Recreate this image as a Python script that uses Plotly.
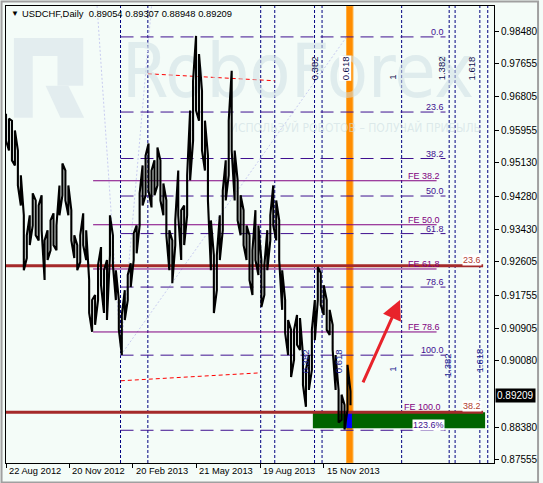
import plotly.graph_objects as go

# ---- data ----
title_text = "USDCHF,Daily  0.89054 0.89307 0.88948 0.89209"
last_close = 0.89209

# every 3rd daily bar (bar 0 = 22 Aug 2012): high / low
bar_step = 3
bar_high = [
    0.9638, 0.9625, 0.9620, 0.9595, 0.9544, 0.9481, 0.9379, 0.9328, 0.9379, 0.9435,
    0.9417, 0.9404, 0.9430, 0.9315, 0.9341, 0.9366, 0.9384, 0.9353, 0.9455, 0.9511,
    0.9493, 0.9455, 0.9392, 0.9328, 0.9303, 0.9328, 0.9384, 0.9341, 0.9214, 0.9163,
    0.9176, 0.9252, 0.9298, 0.9239, 0.9265, 0.9379, 0.9328, 0.9239, 0.9163, 0.9125,
    0.9188, 0.9227, 0.9257, 0.9333, 0.9353, 0.9435, 0.9506, 0.9531, 0.9562, 0.9493,
    0.9519, 0.9552, 0.9519, 0.9460, 0.9417, 0.9341, 0.9315, 0.9366, 0.9493, 0.9392,
    0.9404, 0.9481, 0.9646, 0.9722, 0.9836, 0.9790, 0.9696, 0.9620, 0.9531, 0.9366,
    0.9277, 0.9277, 0.9379, 0.9442, 0.9519, 0.9620, 0.9747, 0.9544, 0.9468, 0.9430,
    0.9392, 0.9353, 0.9328, 0.9290, 0.9392, 0.9353, 0.9265, 0.9252, 0.9341, 0.9379,
    0.9455, 0.9417, 0.9366, 0.9239, 0.9163, 0.9112, 0.9087, 0.9087, 0.9125, 0.9117,
    0.9023, 0.8985, 0.9023, 0.9087, 0.9163, 0.9247, 0.9232, 0.9201, 0.9163, 0.9138,
    0.9100, 0.9023, 0.8934, 0.8922, 0.8896, 0.8998, 0.89307,
]
bar_low = [
    0.9569, 0.9544, 0.9519, 0.9506, 0.9455, 0.9404, 0.9239, 0.9270, 0.9303, 0.9353,
    0.9328, 0.9315, 0.9341, 0.9214, 0.9265, 0.9290, 0.9303, 0.9290, 0.9379, 0.9430,
    0.9417, 0.9379, 0.9315, 0.9270, 0.9239, 0.9260, 0.9303, 0.9265, 0.9130, 0.9082,
    0.9100, 0.9163, 0.9201, 0.9130, 0.9112, 0.9277, 0.9252, 0.9163, 0.9087, 0.9023,
    0.9112, 0.9163, 0.9196, 0.9265, 0.9282, 0.9353, 0.9404, 0.9430, 0.9442, 0.9399,
    0.9430, 0.9455, 0.9417, 0.9379, 0.9328, 0.9239, 0.9206, 0.9303, 0.9379, 0.9265,
    0.9303, 0.9379, 0.9468, 0.9569, 0.9646, 0.9620, 0.9544, 0.9493, 0.9417, 0.9239,
    0.9130, 0.9188, 0.9265, 0.9341, 0.9417, 0.9481, 0.9544, 0.9417, 0.9366, 0.9328,
    0.9303, 0.9265, 0.9214, 0.9176, 0.9265, 0.9227, 0.9145, 0.9176, 0.9239, 0.9315,
    0.9353, 0.9315, 0.9265, 0.9138, 0.9079, 0.9023, 0.8967, 0.9011, 0.9049, 0.9036,
    0.8947, 0.8891, 0.8934, 0.8985, 0.9061, 0.9163, 0.9150, 0.9125, 0.9087, 0.9074,
    0.9036, 0.8934, 0.8851, 0.8858, 0.8833, 0.8883, 0.88948,
]

date_labels = ["22 Aug 2012", "20 Nov 2012", "20 Feb 2013", "21 May 2013", "19 Aug 2013", "15 Nov 2013"]
date_bars = [0, 64, 128, 192, 257, 321]

price_ticks = [0.98480, 0.97655, 0.96805, 0.95955, 0.95130, 0.94280, 0.93430,
               0.92605, 0.91755, 0.90905, 0.90080, 0.88380, 0.87555]

# fibonacci retracement
ret_labels = ["0.0", "23.6", "38.2", "50.0", "61.8", "78.6", "100.0", "123.6%"]
ret_prices = [0.98335, 0.96421, 0.95237, 0.94281, 0.93324, 0.91961, 0.90226, 0.88312]
ret_start, ret_end = 115.7, 444

# fibonacci expansion
fe_labels = ["FE 38.2", "FE 50.0", "FE 61.8", "FE 78.6", "FE 100.0"]
fe_prices = [0.94670, 0.93549, 0.92422, 0.90817, 0.88768]
fe_start, fe_end = 88, 435

# long-term levels (brown)
lt_labels = ["23.6", "38.2"]
lt_prices = [0.92502, 0.88768]
lt_end = 482

# time lines (bar positions)
time_lines = [115.7, 143.3, 257.3, 271.5, 311.7, 319.3, 399.7, 447.7, 453.7, 478.7, 486.7]
tz_top_labels = ["0.382", "0.618", "1", "1.382", "1.618"]
tz_top_bars = [311.7, 343, 391, 440, 470.5]
tz_top_prices = [0.97523, 0.97523, 0.97294, 0.97523, 0.97523]
tz_bot_labels = ["0.382", "0.618", "1", "1.382", "1.618"]
tz_bot_bars = [302.5, 336.7, 391, 446, 478.5]
tz_bot_prices = [0.90080, 0.90080, 0.89852, 0.89980, 0.90080]

# channel (red dashed)
chan_up_bars, chan_up_prices = [143.3, 271.5], [0.97396, 0.97218]
chan_lo_bars, chan_lo_prices = [116, 257.3], [0.89573, 0.89776]

# target zone
zone_bars = [310, 484]
zone_prices = [0.88768, 0.88366]
now_bars = [344, 350.5]
arrow_from = (360, 0.89497)
arrow_to = (398, 0.91630)

BG = "#F4FCF8"
FONT = "Liberation Sans"
y_lo, y_hi = 0.87478, 0.99123
x_lo, x_hi = 0, 493

# plot area in pixels: x 5..498, y 5..463
def px(x):
    return (x - 5) / 493.0

def py(y):
    return (463 - y) / 458.0

fig = go.Figure()

# watermark
fig.add_trace(go.Scatter(x=[295], y=[0.97280], mode="text", text=["RoboForex"],
                         textfont=dict(family="Liberation Sans Narrow, DejaVu Sans Condensed, Liberation Sans",
                                       size=75, color="rgba(205,222,228,0.55)"),
                         hoverinfo="skip"))
fig.add_trace(go.Scatter(x=[353], y=[0.96000], mode="text",
                         text=["ИСПОЛЬЗУЙ РОБОТОВ – ПОЛУЧАЙ ПРИБЫЛЬ"],
                         textfont=dict(family="Liberation Sans Narrow, DejaVu Sans Condensed, Liberation Sans",
                                       size=12, color="rgba(205,220,226,0.6)"),
                         hoverinfo="skip"))

# price bars drawn as a continuous high/low zig-zag
bx, by = [], []
for k, (h, l) in enumerate(zip(bar_high, bar_low)):
    i = k * bar_step
    bx += [i, i]
    by += [h, l] if k % 2 == 0 else [l, h]
fig.add_trace(go.Scatter(x=bx, y=by, mode="lines", line=dict(color="black", width=2.1),
                         hoverinfo="skip"))

shapes = []
# logo
shapes.append(dict(type="path", xref="paper", yref="paper", layer="below",
                   path="M %f,%f L %f,%f L %f,%f L %f,%f L %f,%f L %f,%f L %f,%f L %f,%f Z" % (
                       px(13), py(37), px(83), py(37), px(83), py(85), px(57), py(85),
                       px(57), py(55), px(32), py(55), px(32), py(117), px(13), py(117)),
                   fillcolor="#E3EDEF", line=dict(width=0)))
shapes.append(dict(type="path", xref="paper", yref="paper", layer="below",
                   path="M %f,%f L %f,%f L %f,%f L %f,%f Z" % (
                       px(45), py(85), px(68), py(85), px(84), py(117), px(60), py(117)),
                   fillcolor="#E3EDEF", line=dict(width=0)))

# orange "now" band
shapes.append(dict(type="rect", xref="x", yref="paper", x0=now_bars[0], x1=now_bars[1], y0=0, y1=1,
                   fillcolor="#FF8C00", line=dict(color="#FFB040", width=1), layer="below"))
# target zone
shapes.append(dict(type="rect", xref="x", yref="y", x0=zone_bars[0], x1=zone_bars[1],
                   y0=zone_prices[1], y1=zone_prices[0], fillcolor="#006400",
                   line=dict(width=0), layer="below"))
shapes.append(dict(type="rect", xref="x", yref="y", x0=now_bars[0], x1=now_bars[1] - 1,
                   y0=zone_prices[1], y1=zone_prices[0], fillcolor="#0000FF",
                   line=dict(width=0), layer="below"))

# time lines
for t in time_lines:
    shapes.append(dict(type="line", xref="x", yref="paper", x0=t, x1=t, y0=0, y1=1, layer="below",
                       line=dict(color="#000080", width=1, dash="3px,2px")))

# faint fib diagonals
for (xa, ya, xb, yb) in [(116, 0.90226, 92, 0.99123), (116, 0.90226, 147, 0.99123),
                         (116, 0.90226, 344, 0.98335)]:
    shapes.append(dict(type="line", xref="x", yref="y", x0=xa, y0=ya, x1=xb, y1=yb, layer="below",
                       line=dict(color="#C8CCF0", width=1, dash="2px,2px")))

# retracement levels
for p in ret_prices:
    shapes.append(dict(type="line", xref="x", yref="y", x0=ret_start, x1=ret_end, y0=p, y1=p,
                       layer="below", line=dict(color="#3F1090", width=1, dash="13px,7px")))
# expansion levels
for p in fe_prices:
    shapes.append(dict(type="line", xref="x", yref="y", x0=fe_start, x1=fe_end, y0=p, y1=p,
                       layer="below", line=dict(color="#800080", width=1)))
# long-term levels
for p in lt_prices:
    shapes.append(dict(type="line", xref="x", yref="y", x0=x_lo, x1=lt_end, y0=p, y1=p,
                       layer="below", line=dict(color="#A52A2A", width=3)))
# channel
for bxs, bps in [(chan_up_bars, chan_up_prices), (chan_lo_bars, chan_lo_prices)]:
    shapes.append(dict(type="line", xref="x", yref="y", x0=bxs[0], x1=bxs[1], y0=bps[0], y1=bps[1],
                       layer="below", line=dict(color="#FF0000", width=1, dash="4px,3px")))

# window frame
shapes.append(dict(type="rect", xref="paper", yref="paper", x0=px(0.5), x1=px(542.5),
                   y0=py(482.5), y1=py(0.5), line=dict(color="#A0A0A0", width=2), layer="below"))

ann = []
ann.append(dict(xref="paper", yref="paper", x=px(8), y=py(13), xanchor="left", yanchor="middle",
                text="▼", showarrow=False, font=dict(family=FONT, size=8, color="black")))
ann.append(dict(xref="paper", yref="paper", x=px(19), y=py(13), xanchor="left", yanchor="middle",
                text=title_text, showarrow=False, font=dict(family=FONT, size=9.4, color="black")))

for lab, b in zip(date_labels, date_bars):
    ann.append(dict(xref="x", yref="paper", x=b + 1, y=0, xanchor="left", yanchor="top", yshift=-1,
                    text=lab, showarrow=False, font=dict(family=FONT, size=9.3, color="black")))

for lab, p in zip(ret_labels, ret_prices):
    ann.append(dict(xref="x", yref="y", x=ret_end - 1, y=p, xanchor="right", yanchor="bottom",
                    yshift=-1, text=lab, showarrow=False, borderpad=0,
                    bgcolor="white" if lab.endswith("%") else None,
                    font=dict(family=FONT, size=9, color="#3F1090")))
for lab, p in zip(fe_labels, fe_prices):
    ann.append(dict(xref="x", yref="y", x=fe_end - 34 if lab == "FE 100.0" else fe_end - 30, y=p,
                    xanchor="left", yanchor="bottom", yshift=-1, text=lab, showarrow=False, borderpad=0,
                    font=dict(family=FONT, size=9, color="#800080")))
for lab, p in zip(lt_labels, lt_prices):
    ann.append(dict(xref="x", yref="y", x=lt_end - 1, y=p, xanchor="right", yanchor="bottom",
                    yshift=0, text=lab, showarrow=False, borderpad=0, bgcolor="white",
                    font=dict(family=FONT, size=9, color="#B03A2E")))

for lab, b, p in zip(tz_top_labels, tz_top_bars, tz_top_prices):
    ann.append(dict(xref="x", yref="y", x=b, y=p, textangle=-90, text=lab, showarrow=False,
                    bgcolor="white" if lab == "0.618" else None, borderpad=0,
                    font=dict(family=FONT, size=9.5, color="#101050")))
for lab, b, p in zip(tz_bot_labels, tz_bot_bars, tz_bot_prices):
    ann.append(dict(xref="x", yref="y", x=b, y=p, textangle=-90, text=lab, showarrow=False,
                    borderpad=0, font=dict(family=FONT, size=9.5, color="#202090")))

ann.append(dict(xref="x", yref="y", axref="x", ayref="y", x=arrow_to[0], y=arrow_to[1],
                ax=arrow_from[0], ay=arrow_from[1], showarrow=True, arrowhead=2, arrowsize=1.3,
                arrowwidth=3, arrowcolor="#E8232B", text=""))

ann.append(dict(xref="paper", yref="y", x=1, y=last_close, xanchor="left", yanchor="middle",
                xshift=1, text="%.5f" % last_close, showarrow=False, bgcolor="black", borderpad=1,
                font=dict(family=FONT, size=10, color="white")))

fig.update_layout(
    width=543, height=483,
    margin=dict(l=5, r=45, t=5, b=20),
    paper_bgcolor=BG, plot_bgcolor=BG,
    showlegend=False,
    shapes=shapes, annotations=ann,
    xaxis=dict(range=[x_lo, x_hi], showgrid=False, zeroline=False, showline=True, mirror=True,
               linecolor="black", linewidth=1, ticks="outside", ticklen=4, tickcolor="black",
               tickvals=date_bars, showticklabels=False, fixedrange=True),
    yaxis=dict(range=[y_lo, y_hi], side="right", showgrid=False, zeroline=False, showline=True,
               mirror=True, linecolor="black", linewidth=1, ticks="outside", ticklen=4,
               tickcolor="black", tickvals=price_ticks, ticktext=["%.5f" % v for v in price_ticks],
               tickfont=dict(family=FONT, size=10, color="black"), fixedrange=True),
)

fig.write_html("out.html", config={"displayModeBar": False},
               post_script="document.body.style.margin='0px';document.body.style.overflow='hidden';")
